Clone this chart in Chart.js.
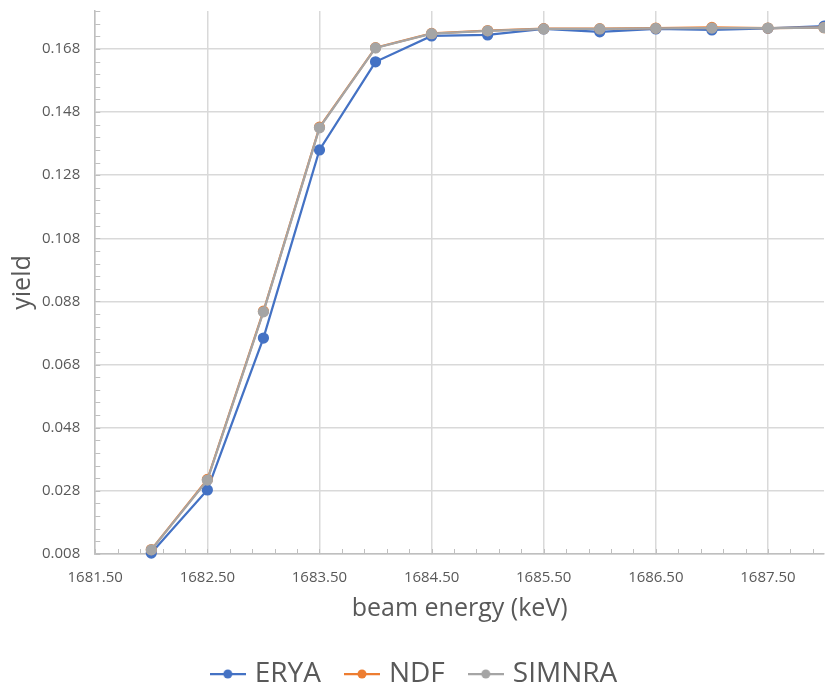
<!DOCTYPE html>
<html lang="en">
<head>
<meta charset="UTF-8">
<title>yield vs beam energy</title>
<script src="https://cdn.jsdelivr.net/npm/chart.js"></script>
<style>
    html, body { margin: 0; padding: 0; background: #fff; }
    #wrap { width: 825px; height: 686px; }
</style>
</head>
<body>
<div id="wrap"><canvas id="yieldChart" width="825" height="686"></canvas></div>
<script>
    // beam energy (keV)
    const energies = [1682.0, 1682.5, 1683.0, 1683.5, 1684.0, 1684.5, 1685.0, 1685.5, 1686.0, 1686.5, 1687.0, 1687.5, 1688.0];
    const eryaYield = [0.0083, 0.0283, 0.0764, 0.1360, 0.1639, 0.1721, 0.1724, 0.1743, 0.1734, 0.1743, 0.1740, 0.1745, 0.1752];
    const ndfYield = [0.0094, 0.0316, 0.0849, 0.1432, 0.1684, 0.1729, 0.1738, 0.1744, 0.1744, 0.1746, 0.1748, 0.1746, 0.1747];
    const simnraYield = [0.0093, 0.0314, 0.0847, 0.1430, 0.1683, 0.1728, 0.1737, 0.1743, 0.1743, 0.1745, 0.1746, 0.1746, 0.1747];

    const xTicks = [1681.5, 1682.5, 1683.5, 1684.5, 1685.5, 1686.5, 1687.5];
    const yTicks = [0.008, 0.028, 0.048, 0.068, 0.088, 0.108, 0.128, 0.148, 0.168];

    const FONT = "'Open Sans', 'Noto Sans', sans-serif";
    const AXIS = "#bfbfbf";
    const GRID = "#d9d9d9";
    const TEXT = "#595959";

    function pts(ys) {
        return energies.map((x, i) => ({ x: x, y: ys[i] }));
    }

    // little line + dot icon for the legend
    function legendIcon(color) {
        const c = document.createElement("canvas");
        c.width = 36; c.height = 14;
        const g = c.getContext("2d");
        g.strokeStyle = color;
        g.lineWidth = 2.25;
        g.beginPath(); g.moveTo(0, 7); g.lineTo(36, 7); g.stroke();
        g.fillStyle = color;
        g.beginPath(); g.arc(18, 7, 4.5, 0, Math.PI * 2); g.fill();
        return c;
    }

    // minor tick marks drawn inside the plot, like the spreadsheet axis
    const minorTicks = {
        id: "minorTicks",
        beforeDatasetsDraw(chart) {
            const ctx = chart.ctx, a = chart.chartArea;
            const xs = chart.scales.x, ys = chart.scales.y;
            ctx.save();
            ctx.strokeStyle = AXIS;
            ctx.lineWidth = 1;
            ctx.beginPath();
            for (let v = xs.min; v <= xs.max + 1e-9; v += 0.2) {
                const px = Math.round(xs.getPixelForValue(v)) + 0.5;
                ctx.moveTo(px, a.bottom); ctx.lineTo(px, a.bottom - 5);
            }
            for (let v = ys.min; v <= ys.max + 1e-9; v += 0.004) {
                const py = Math.round(ys.getPixelForValue(v)) + 0.5;
                ctx.moveTo(a.left, py); ctx.lineTo(a.left + 5, py);
            }
            ctx.stroke();
            ctx.restore();
        }
    };

    function series(label, ys, color, order) {
        return {
            label: label,
            data: pts(ys),
            borderColor: color,
            backgroundColor: color,
            pointBackgroundColor: color,
            pointBorderColor: color,
            borderWidth: 2.25,
            pointRadius: 4.5,
            pointHoverRadius: 4.5,
            pointStyle: "circle",
            tension: 0,
            order: order,
            clip: 6
        };
    }

    new Chart(document.getElementById("yieldChart"), {
        type: "line",
        data: {
            datasets: [
                series("ERYA", eryaYield, "#4472c4", 3),
                series("NDF", ndfYield, "#ed7d31", 2),
                series("SIMNRA", simnraYield, "#a5a5a5", 1)
            ]
        },
        options: {
            responsive: false,
            animation: false,
            layout: { autoPadding: false, padding: { left: 8, right: 1, top: 11, bottom: -12 } },
            plugins: {
                tooltip: { enabled: false },
                legend: {
                    position: "bottom",
                    labels: {
                        usePointStyle: true,
                        pointStyleWidth: 26,
                        color: TEXT,
                        font: { family: FONT, size: 28 },
                        padding: 28,
                        boxHeight: 14,
                        generateLabels(chart) {
                            return chart.data.datasets.map((d, i) => ({
                                text: d.label,
                                fontColor: TEXT,
                                pointStyle: legendIcon(d.borderColor),
                                strokeStyle: d.borderColor,
                                fillStyle: d.borderColor,
                                lineWidth: 0,
                                hidden: false,
                                datasetIndex: i
                            }));
                        }
                    }
                }
            },
            scales: {
                x: {
                    type: "linear",
                    min: 1681.5,
                    max: 1688.0,
                    afterBuildTicks(scale) {
                        scale.ticks = xTicks.map(v => ({ value: v }));
                    },
                    afterFit(scale) {
                        scale.paddingLeft = 0;
                        scale.paddingRight = 0;
                    },
                    ticks: {
                        color: TEXT,
                        font: { family: FONT, size: 15 },
                        padding: 15,
                        maxRotation: 0,
                        callback: v => Number(v).toFixed(2)
                    },
                    grid: { color: GRID, lineWidth: 1.5, tickLength: 0 },
                    border: { color: AXIS, width: 1.5 },
                    title: {
                        display: true,
                        text: "beam energy (keV)",
                        color: TEXT,
                        font: { family: FONT, size: 25 },
                        padding: { top: -8, bottom: 8 }
                    }
                },
                y: {
                    type: "linear",
                    min: 0.008,
                    max: 0.18,
                    afterBuildTicks(scale) {
                        scale.ticks = yTicks.map(v => ({ value: v }));
                    },
                    afterFit(scale) {
                        scale.paddingTop = 0;
                        scale.paddingBottom = 0;
                    },
                    ticks: {
                        color: TEXT,
                        font: { family: FONT, size: 15 },
                        padding: 15,
                        callback: v => Number(v).toFixed(3)
                    },
                    grid: { color: GRID, lineWidth: 1.5, tickLength: 0 },
                    border: { color: AXIS, width: 1.5 },
                    title: {
                        display: true,
                        text: "yield",
                        color: TEXT,
                        font: { family: FONT, size: 25 },
                        padding: { top: 0, bottom: -11 }
                    }
                }
            }
        },
        plugins: [minorTicks]
    });
</script>
</body>
</html>
